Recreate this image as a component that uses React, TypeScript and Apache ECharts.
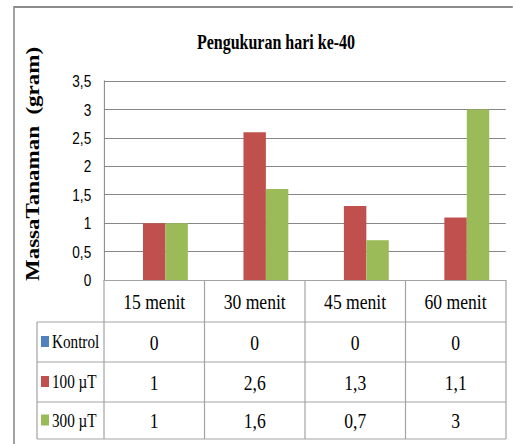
import React, { useEffect, useRef } from "react";
import * as echarts from "echarts";

// ---- data ----
const title = "Pengukuran hari ke-40";
const yAxisTitle = "MassaTanaman  (gram)";
const categories = ["15 menit", "30 menit", "45 menit", "60 menit"];
const seriesNames = ["Kontrol", "100 µT", "300 µT"];
const kontrolValues = [0, 0, 0, 0];
const t100Values = [1, 2.6, 1.3, 1.1];
const t300Values = [1, 1.6, 0.7, 3];
const seriesColors = ["#4F81BD", "#C0504D", "#9BBB59"];
const yMin = 0;
const yMax = 3.5;
const yInterval = 0.5;

// ---- layout (pre-condensation coordinates) ----
const S = 0.8; // horizontal condensation of the whole picture
const PW = 513;
const PH = 444;
const W = PW / S;
const gridLeftX = 104 / S;
const gridRightX = 506 / S;
const gridTopY = 81;
const gridBottomY = 280;
const tableLeftX = 37 / S;
const rowLines = [280, 322, 362, 402, 439];
const fmt = (v: number) => String(v).replace(".", ",");

export default function App() {
  const ref = useRef<HTMLDivElement>(null);
  useEffect(() => {
    if (!ref.current) return;
    const chart = echarts.init(ref.current, undefined, { renderer: "svg" });
    const seriesValues = [kontrolValues, t100Values, t300Values];
    const colW = (gridRightX - gridLeftX) / categories.length;
    const tableGray = "#a3a3a3";
    const graphics: any[] = [];
    // outer frame
    graphics.push({
      type: "rect",
      shape: { x: 14 / S, y: 7, width: 900, height: 700 },
      style: { fill: "none", stroke: "#8c8c8c", lineWidth: 2 },
      silent: true,
    });
    // y axis title
    graphics.push({
      type: "text",
      x: 33 / S,
      y: 164,
      rotation: Math.PI / 2,
      style: {
        text: yAxisTitle,
        font: "bold 23px 'Liberation Serif'",
        fill: "#000",
        align: "center",
        verticalAlign: "middle",
      },
    });
    // table horizontal lines
    rowLines.slice(1).forEach((y) => {
      graphics.push({
        type: "line",
        shape: { x1: tableLeftX, y1: y, x2: gridRightX, y2: y },
        style: { stroke: tableGray, lineWidth: 1.2 },
      });
    });
    // table vertical lines
    graphics.push({
      type: "line",
      shape: { x1: tableLeftX, y1: rowLines[1], x2: tableLeftX, y2: rowLines[4] },
      style: { stroke: tableGray, lineWidth: 1.5 },
    });
    for (let i = 0; i <= categories.length; i++) {
      const x = gridLeftX + i * colW;
      graphics.push({
        type: "line",
        shape: { x1: x, y1: rowLines[0], x2: x, y2: rowLines[4] },
        style: { stroke: tableGray, lineWidth: 1.5 },
      });
    }
    // table rows
    seriesNames.forEach((name, r) => {
      const cy = (rowLines[r + 1] + rowLines[r + 2]) / 2;
      graphics.push({
        type: "rect",
        shape: { x: 41 / S, y: cy - 6, width: 8 / S, height: 11 },
        style: { fill: seriesColors[r] },
      });
      graphics.push({
        type: "text",
        x: 52 / S,
        y: cy,
        style: {
          text: name,
          font: "19px 'Liberation Serif'",
          fill: "#000",
          align: "left",
          verticalAlign: "middle",
        },
      });
      seriesValues[r].forEach((v, c) => {
        graphics.push({
          type: "text",
          x: gridLeftX + (c + 0.5) * colW,
          y: cy,
          style: {
            text: fmt(v),
            font: "22px 'Liberation Serif'",
            fill: "#000",
            align: "center",
            verticalAlign: "middle",
          },
        });
      });
    });

    chart.setOption({
      animation: false,
      backgroundColor: "#fff",
      title: {
        text: title,
        left: 272 / S,
        top: 27,
        textAlign: "center",
        textStyle: {
          fontFamily: "Liberation Serif",
          fontWeight: "bold",
          fontSize: 20,
          color: "#000",
        },
      },
      grid: {
        left: gridLeftX,
        right: W - gridRightX,
        top: gridTopY,
        bottom: PH - gridBottomY,
        containLabel: false,
      },
      xAxis: {
        type: "category",
        data: categories,
        axisLine: { show: true, lineStyle: { color: tableGray, width: 1.2 } },
        axisTick: { show: false },
        axisLabel: {
          margin: 10,
          fontFamily: "Liberation Serif",
          fontSize: 22,
          lineHeight: 22,
          color: "#000",
        },
      },
      yAxis: {
        type: "value",
        min: yMin,
        max: yMax,
        interval: yInterval,
        axisLine: { show: true, lineStyle: { color: "#878787", width: 1.3 } },
        axisTick: { show: false },
        splitLine: { show: true, lineStyle: { color: "#878787", width: 1.2 } },
        axisLabel: {
          margin: 16,
          fontFamily: "Liberation Sans",
          fontSize: 17,
          color: "#000",
          formatter: (v: number) => fmt(v),
        },
      },
      series: seriesNames.map((name, i) => ({
        name,
        type: "bar",
        data: seriesValues[i],
        barGap: "0%",
        barCategoryGap: "33%",
        itemStyle: { color: seriesColors[i] },
      })),
      graphic: graphics,
    });
    return () => chart.dispose();
  }, []);

  return (
    <div
      style={{
        position: "fixed",
        left: 0,
        top: 0,
        width: PW,
        height: PH,
        overflow: "hidden",
        background: "#fff",
      }}
    >
      <div
        ref={ref}
        style={{
          width: W,
          height: PH,
          transform: `scaleX(${S})`,
          transformOrigin: "0 0",
        }}
      />
    </div>
  );
}
